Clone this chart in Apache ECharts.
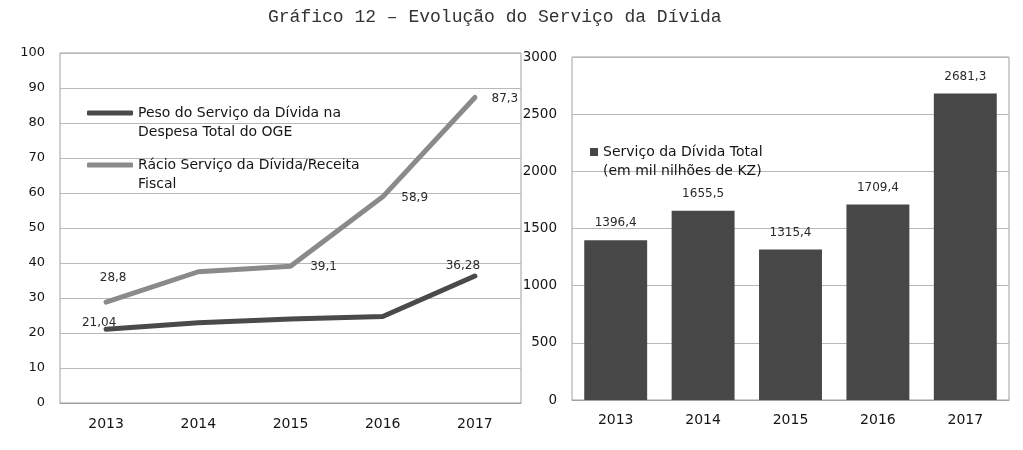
<!DOCTYPE html>
<html>
<head>
<meta charset="utf-8">
<script src="https://cdn.jsdelivr.net/npm/echarts@6/dist/echarts.min.js"></script>
<style>html,body{margin:0;padding:0;background:#fff;}#c{width:1023px;height:450px;}</style>
</head>
<body>
<div id="c"></div>
<script>
const years = ['2013', '2014', '2015', '2016', '2017'];
const pesoServico = [21.04, 22.9, 24.0, 24.7, 36.28];
const racioServico = [28.8, 37.5, 39.1, 58.9, 87.3];
const servicoTotal = [1396.4, 1655.5, 1315.4, 1709.4, 2681.3];
const leftAxisMax = 100, leftAxisStep = 10;
const rightAxisMax = 3000, rightAxisStep = 500;
const titleText = 'Gráfico 12 – Evolução do Serviço da Dívida';
const namePeso = 'Peso do Serviço da Dívida na Despesa Total do OGE';
const nameRacio = 'Rácio Serviço da Dívida/Receita Fiscal';
const nameTotal = 'Serviço da Dívida Total (em mil nilhões de KZ)';

const FONT = 'DejaVu Sans';
const TXT = '#151515';
const fmt = v => String(v).replace('.', ',');

// label placement (offsets) kept separate from data
const pesoLabels = {0: [-7, 0], 4: [-12, -4]};
const racioLabels = {0: [7, -18], 2: [33, 7], 3: [32, 8], 4: [30, 8]};

function buildLine(values, labels) {
  return values.map((v, i) => {
    const item = {value: v};
    if (labels[i]) {
      item.label = {show: true, position: 'top', distance: 0, offset: labels[i]};
    }
    return item;
  });
}

// leading blank line so the icon lines up with the first text line
const legendNames = {};
legendNames[namePeso] = ' \nPeso do Serviço da Dívida na\nDespesa Total do OGE';
legendNames[nameRacio] = ' \nRácio Serviço da Dívida/Receita\nFiscal';
legendNames[nameTotal] = ' \nServiço da Dívida Total\n(em mil nilhões de KZ)';

const legendText = {fontFamily: FONT, fontSize: 14, color: TXT, lineHeight: 19};

const chart = echarts.init(document.getElementById('c'));
chart.setOption({
  backgroundColor: '#fff',
  animation: false,
  title: {
    text: titleText, left: 263, top: 3,
    textStyle: {fontFamily: 'Liberation Mono', fontSize: 18, fontWeight: 'normal', color: '#333'}
  },
  legend: [
    {data: [namePeso], left: 82, top: 113 - 5 - 28.5, icon: 'roundRect', itemWidth: 46, itemHeight: 5,
     formatter: n => legendNames[n], textStyle: legendText},
    {data: [nameRacio], left: 82, top: 165 - 5 - 28.5, icon: 'roundRect', itemWidth: 46, itemHeight: 5,
     formatter: n => legendNames[n], textStyle: legendText},
    {data: [nameTotal], left: 585, top: 152 - 5 - 28.5, icon: 'rect', itemWidth: 8, itemHeight: 8,
     formatter: n => legendNames[n], textStyle: legendText}
  ],
  grid: [
    {left: 60, top: 53, width: 461, height: 350, show: true, borderColor: '#a0a0a0', borderWidth: 1},
    {left: 572, top: 57, width: 437, height: 343, show: true, borderColor: '#a0a0a0', borderWidth: 1}
  ],
  xAxis: [
    {type: 'category', gridIndex: 0, data: years, boundaryGap: true,
     axisLine: {lineStyle: {color: '#a0a0a0'}}, axisTick: {show: false},
     axisLabel: {fontFamily: FONT, fontSize: 14, color: TXT, margin: 14}},
    {type: 'category', gridIndex: 1, data: years, boundaryGap: true,
     axisLine: {lineStyle: {color: '#a0a0a0'}}, axisTick: {show: false},
     axisLabel: {fontFamily: FONT, fontSize: 14, color: TXT, margin: 13}}
  ],
  yAxis: [
    {type: 'value', gridIndex: 0, min: 0, max: leftAxisMax, interval: leftAxisStep,
     axisLine: {show: false}, axisTick: {show: false},
     splitLine: {lineStyle: {color: '#b8b8b8', width: 1}},
     axisLabel: {fontFamily: FONT, fontSize: 13, color: TXT, margin: 15, formatter: v => String(v)}},
    {type: 'value', gridIndex: 1, min: 0, max: rightAxisMax, interval: rightAxisStep,
     axisLine: {show: false}, axisTick: {show: false},
     splitLine: {lineStyle: {color: '#b8b8b8', width: 1}},
     axisLabel: {fontFamily: FONT, fontSize: 13.5, color: TXT, margin: 15, formatter: v => String(v)}}
  ],
  series: [
    {name: namePeso, type: 'line', xAxisIndex: 0, yAxisIndex: 0,
     data: buildLine(pesoServico, pesoLabels),
     symbol: 'circle', symbolSize: 1, showSymbol: true,
     lineStyle: {color: '#4a4a4a', width: 5, cap: 'round', join: 'round'},
     itemStyle: {color: '#4a4a4a'},
     label: {show: false, formatter: p => fmt(p.value), fontFamily: FONT, fontSize: 12, color: '#2a2a2a'}},
    {name: nameRacio, type: 'line', xAxisIndex: 0, yAxisIndex: 0,
     data: buildLine(racioServico, racioLabels),
     symbol: 'circle', symbolSize: 1, showSymbol: true,
     lineStyle: {color: '#8a8a8a', width: 5, cap: 'round', join: 'round'},
     itemStyle: {color: '#8a8a8a'},
     label: {show: false, formatter: p => fmt(p.value), fontFamily: FONT, fontSize: 12, color: '#2a2a2a'}},
    {name: nameTotal, type: 'bar', xAxisIndex: 1, yAxisIndex: 1,
     data: servicoTotal, barCategoryGap: '28%',
     itemStyle: {color: '#474747'},
     label: {show: true, position: 'top', distance: 11, formatter: p => fmt(p.value),
             fontFamily: FONT, fontSize: 12, color: '#2a2a2a'}}
  ]
});
</script>
</body>
</html>
